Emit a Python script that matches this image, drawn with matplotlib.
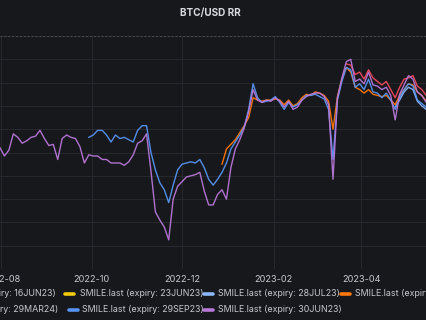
import matplotlib
matplotlib.use("Agg")
import matplotlib.pyplot as plt
import matplotlib.dates as mdates
from matplotlib.lines import Line2D
import numpy as np
import pandas as pd

# --- data (25d risk reversal, one point every 3 days) ---
STEP = "3D"

rr_30jun23_start = "2022-07-31"
rr_30jun23 = [
    0.4, -0.3, 0.2, 1.6, 1.3, 0.8, 1.0, 1.3, 1.4, 1.9, 1.2, 0.6, 0.7, -0.6, 1.2, 1.5,
    1.3, 1.2, 0.5, -0.9, -0.2, -0.3, -0.3, -0.6, -0.6, -0.9, -0.9, -0.9, -1.1, -0.8,
    -0.2, 0.8, 1.0, 1.6, -1.6, -5.1, -5.8, -6.4, -7.5, -4.0, -2.9, -2.5, -2.1, -2.0,
    -1.9, -1.7, -3.3, -4.5, -4.5, -3.6, -3.2, -4.0, -1.3, 0.3, 1.1, 2.1, 3.5, 5.4,
    4.5, 4.3, 4.5, 4.4, 4.7, 4.4, 3.9, 4.4, 3.7, 3.9, 4.5, 4.8, 5.0, 5.1, 5.1, 4.8,
    4.1, -2.3, 4.7, 6.4, 7.8, 8.0, 6.1, 6.3, 5.9, 6.9, 5.8, 5.7, 5.4, 5.6, 4.9, 2.8,
    5.0, 5.8, 6.6, 6.3, 5.2, 4.9, 4.3,
]

rr_29sep23_start = "2022-09-29"
rr_29sep23 = [
    1.3, 1.5, 1.9, 1.9, 1.5, 0.9, 1.5, 1.2, 1.3, 1.1, 0.9, 1.9, 2.3, 2.3, 0.0, -1.5,
    -2.6, -3.2, -4.3, -2.8, -1.5, -1.0, -0.9, -0.8, -0.9, -0.6, -1.3, -2.3, -2.8,
    -2.3, -1.7, -0.9, 0.3, 0.9, 1.5, 2.2, 3.7, 5.9, 4.7, 4.3, 4.4, 4.5, 4.8, 4.3,
    3.7, 4.3, 3.9, 4.1, 4.5, 4.9, 4.9, 5.0, 4.8, 4.6, 3.7, -0.6, 4.5, 6.1, 7.3, 7.1,
    5.6, 5.9, 5.4, 6.3, 5.2, 5.1, 4.7, 5.1, 4.5, 3.7, 4.7, 5.4, 5.9, 5.7, 4.5, 4.2,
    3.9,
]

rr_29dec23_start = "2022-12-28"
rr_29dec23 = [
    -1.0, 0.3, 0.7, 1.1, 1.7, 2.3, 3.0, 4.7, 4.5, 4.4, 4.5, 4.5, 4.6, 4.5, 4.1, 4.5,
    4.0, 4.2, 4.7, 5.0, 4.9, 5.2, 5.1, 4.9, 4.4, 2.0, 4.8, 6.3, 7.3, 6.9, 5.6, 5.4,
    5.1, 5.4, 5.0, 4.9, 4.8, 4.9, 4.5, 4.1, 4.9, 5.4, 5.9, 5.8, 5.2, 4.9, 4.4,
]

rr_29mar24_start = "2023-03-22"
rr_29mar24 = [
    7.6, 7.5, 6.7, 6.9, 6.3, 7.1, 6.4, 6.1, 5.8, 6.1, 5.4, 4.7, 5.6, 6.3, 6.4, 6.6,
    5.7, 5.4, 4.9,
]

rr_28jul23_start = "2023-04-24"
rr_28jul23 = [3.9, 4.5, 5.2, 5.6, 5.4, 4.4, 4.0, 3.7]

# legend entries: (label, colour); the first item of each row is cut off on the left
legend_row1 = [
    ("SMILE.last (expiry: 16JUN23)", "#73BF69"),
    ("SMILE.last (expiry: 23JUN23)", "#F2CC0C"),
    ("SMILE.last (expiry: 28JUL23)", "#8AB8FF"),
    ("SMILE.last (expiry: 29DEC23)", "#FF780A"),
]
legend_row2 = [
    ("SMILE.last (expiry: 29MAR24)", "#F2495C"),
    ("SMILE.last (expiry: 29SEP23)", "#5794F2"),
    ("SMILE.last (expiry: 30JUN23)", "#B877D9"),
]

# draw order: later series on top
series = [
    (rr_28jul23_start, rr_28jul23, "#8AB8FF"),
    (rr_29dec23_start, rr_29dec23, "#FF780A"),
    (rr_29mar24_start, rr_29mar24, "#F2495C"),
    (rr_29sep23_start, rr_29sep23, "#5794F2"),
    (rr_30jun23_start, rr_30jun23, "#B877D9"),
]

BG = "#17181c"
GRID = "#26282d"
TEXT = "#c7c8cf"
W, H = 427, 320

plt.rcParams["font.family"] = ["Inter", "DejaVu Sans"]

fig = plt.figure(figsize=(W / 100, H / 100), dpi=100)
fig.patch.set_facecolor(BG)

# axes spans the full width (y labels are off-picture to the left)
ax = fig.add_axes([0, (H - 269) / H, 1, (269 - 36) / H])
ax.set_facecolor(BG)

for start, vals, color in series:
    dates = pd.date_range(start, periods=len(vals), freq=STEP)
    ax.plot(dates, vals, color=color, lw=1.0, alpha=0.95)

x0 = pd.Timestamp("2022-07-31")
ax.set_xlim(x0, x0 + pd.Timedelta(days=288.5))
ax.set_ylim(-10, 10)
ax.set_yticks(np.arange(-10, 11, 2))
ax.yaxis.set_ticklabels([])
ax.tick_params(axis="y", length=0)

ax.xaxis.set_major_locator(mdates.MonthLocator(bymonth=[2, 4, 6, 8, 10, 12]))
ax.xaxis.set_major_formatter(mdates.DateFormatter("%Y-%m"))
ax.tick_params(axis="x", length=0, pad=4, labelsize=6.6, labelcolor=TEXT)

ax.grid(True, color=GRID, lw=0.8)
ax.axhline(10, color="#4a4c52", lw=0.7, ls=(0, (2, 2)), clip_on=False)
for s in ax.spines.values():
    s.set_visible(False)

fig.text(210 / W, 1 - 13 / H, "BTC/USD RR", ha="center", va="center",
         fontsize=7.2, fontweight="bold", color="#d8d9de")


def legend_row(items, y, first_end, marks, texts):
    yy = 1 - y / H
    fig.text(first_end / W, yy, items[0][0], ha="right", va="center",
             fontsize=6.4, color=TEXT)
    for (label, color), mx, tx in zip(items[1:], marks, texts):
        fig.add_artist(Line2D([mx / W, (mx + 9) / W], [yy, yy], transform=fig.transFigure,
                              color=color, lw=2.6, solid_capstyle="round"))
        fig.text(tx / W, yy, label, ha="left", va="center", fontsize=6.4, color=TEXT)


legend_row(legend_row1, 294, 56, [65, 204, 341], [80, 218, 355])
legend_row(legend_row2, 310, 58, [69, 204], [82, 218])

fig.savefig("out.png", dpi=100, facecolor=BG)
